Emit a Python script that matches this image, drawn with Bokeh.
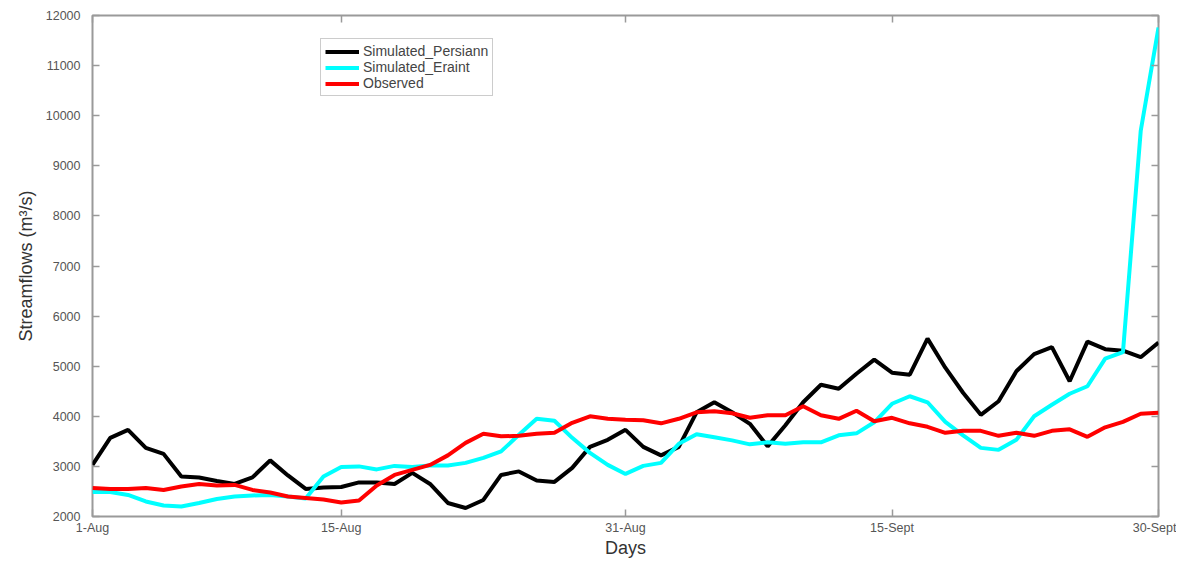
from bokeh.plotting import figure
from bokeh.models import (FixedTicker, Legend, LegendItem, LinearAxis, Range1d,
                          CustomJSTickFormatter)
from bokeh.embed import file_html
from bokeh.resources import INLINE

tick_days = [0, 14, 30, 45, 60]
tick_labels = ["1-Aug", "15-Aug", "31-Aug", "15-Sept", "30-Sept"]

persiann = [3030, 3570, 3730, 3370, 3250, 2800, 2780, 2710, 2650, 2780,
            3120, 2820, 2550, 2580, 2590, 2680, 2680, 2650, 2870, 2650,
            2270, 2170, 2330, 2830, 2900, 2720, 2690, 2970, 3390, 3530,
            3730, 3390, 3220, 3390, 4080, 4280, 4080, 3850, 3400, 3820,
            4280, 4630, 4550, 4850, 5130, 4870, 4830, 5550, 4970, 4470,
            4030, 4300, 4900, 5240, 5380, 4700, 5490, 5340, 5310, 5180,
            5470]
eraint = [2490, 2490, 2430, 2300, 2220, 2200, 2270, 2350, 2400, 2420,
          2430, 2400, 2360, 2800, 2990, 3000, 2940, 3010, 2990, 3020,
          3020, 3070, 3170, 3300, 3630, 3950, 3910, 3570, 3270, 3030,
          2850, 3010, 3070, 3450, 3640, 3580, 3520, 3440, 3480, 3450,
          3480, 3480, 3620, 3660, 3880, 4250, 4400, 4280, 3890, 3620,
          3370, 3330, 3530, 4000, 4230, 4450, 4600, 5150, 5280, 9700,
          11760]
observed = [2570, 2550, 2550, 2570, 2530, 2600, 2650, 2620, 2630, 2530,
            2480, 2400, 2370, 2340, 2280, 2320, 2620, 2830, 2930, 3030,
            3220, 3470, 3650, 3600, 3610, 3650, 3670, 3870, 4000, 3950,
            3930, 3920, 3860, 3950, 4080, 4100, 4060, 3970, 4020, 4020,
            4200, 4020, 3950, 4110, 3900, 3970, 3860, 3790, 3670, 3710,
            3710, 3610, 3670, 3610, 3710, 3740, 3590, 3780, 3890, 4050,
            4070]
days = list(range(len(observed)))
y_ticks = list(range(2000, 12001, 1000))

FONT = "Liberation Sans"
GRAY = "#9a9a9a"

p = figure(width=1176, height=560, output_backend="svg", toolbar_location=None,
           x_range=Range1d(0, 60), y_range=Range1d(2000, 12000),
           min_border_left=92, min_border_right=18, min_border_top=15,
           min_border_bottom=44)
p.grid.visible = False
p.outline_line_color = GRAY
p.outline_line_width = 2
p.background_fill_color = "white"

r1 = p.line(days, persiann, line_color="black", line_width=4)
r2 = p.line(days, eraint, line_color="#00ffff", line_width=4)
r3 = p.line(days, observed, line_color="#ff0000", line_width=4)

xa = p.xaxis[0]
xa.ticker = FixedTicker(ticks=tick_days)
xa.major_label_overrides = {d: l for d, l in zip(tick_days, tick_labels)}
xa.axis_label = "Days"
ya = p.yaxis[0]
ya.ticker = FixedTicker(ticks=y_ticks)
ya.axis_label = "Streamflows (m\u00b3/s)"

for ax in (xa, ya):
    ax.axis_line_color = None
    ax.major_tick_in = 7
    ax.major_tick_out = 0
    ax.major_tick_line_color = GRAY
    ax.major_tick_line_width = 1.5
    ax.minor_tick_line_color = None
    ax.major_label_text_font = FONT
    ax.major_label_text_font_size = "12.5px"
    ax.major_label_text_color = "#555555"
    ax.axis_label_text_font = FONT
    ax.axis_label_text_font_size = "18px"
    ax.axis_label_text_font_style = "normal"
    ax.axis_label_text_color = "#333333"
xa.major_label_standoff = 4
xa.axis_label_standoff = 0
ya.major_label_standoff = 12
ya.axis_label_standoff = 7

for loc, ticks in (("right", y_ticks), ("above", tick_days)):
    ax = LinearAxis(ticker=FixedTicker(ticks=ticks),
                    formatter=CustomJSTickFormatter(code="return ''"))
    ax.axis_line_color = None
    ax.major_tick_in = 7
    ax.major_tick_out = 0
    ax.major_tick_line_color = GRAY
    ax.major_tick_line_width = 1.5
    ax.minor_tick_line_color = None
    ax.major_label_standoff = 0
    p.add_layout(ax, loc)

legend = Legend(items=[LegendItem(label="Simulated_Persiann", renderers=[r1]),
                       LegendItem(label="Simulated_Eraint", renderers=[r2]),
                       LegendItem(label="Observed", renderers=[r3])],
                location=(228, 420))
legend.label_text_font = FONT
legend.label_text_font_size = "14px"
legend.label_text_color = "#444444"
legend.label_height = 15
legend.label_standoff = 4
legend.glyph_width = 34
legend.glyph_height = 15
legend.spacing = 0
legend.padding = 4
legend.margin = 0
legend.border_line_color = GRAY
legend.border_line_width = 1.5
legend.background_fill_alpha = 1.0
p.add_layout(legend, "center")

open("out.html", "w").write(file_html(p, INLINE))
